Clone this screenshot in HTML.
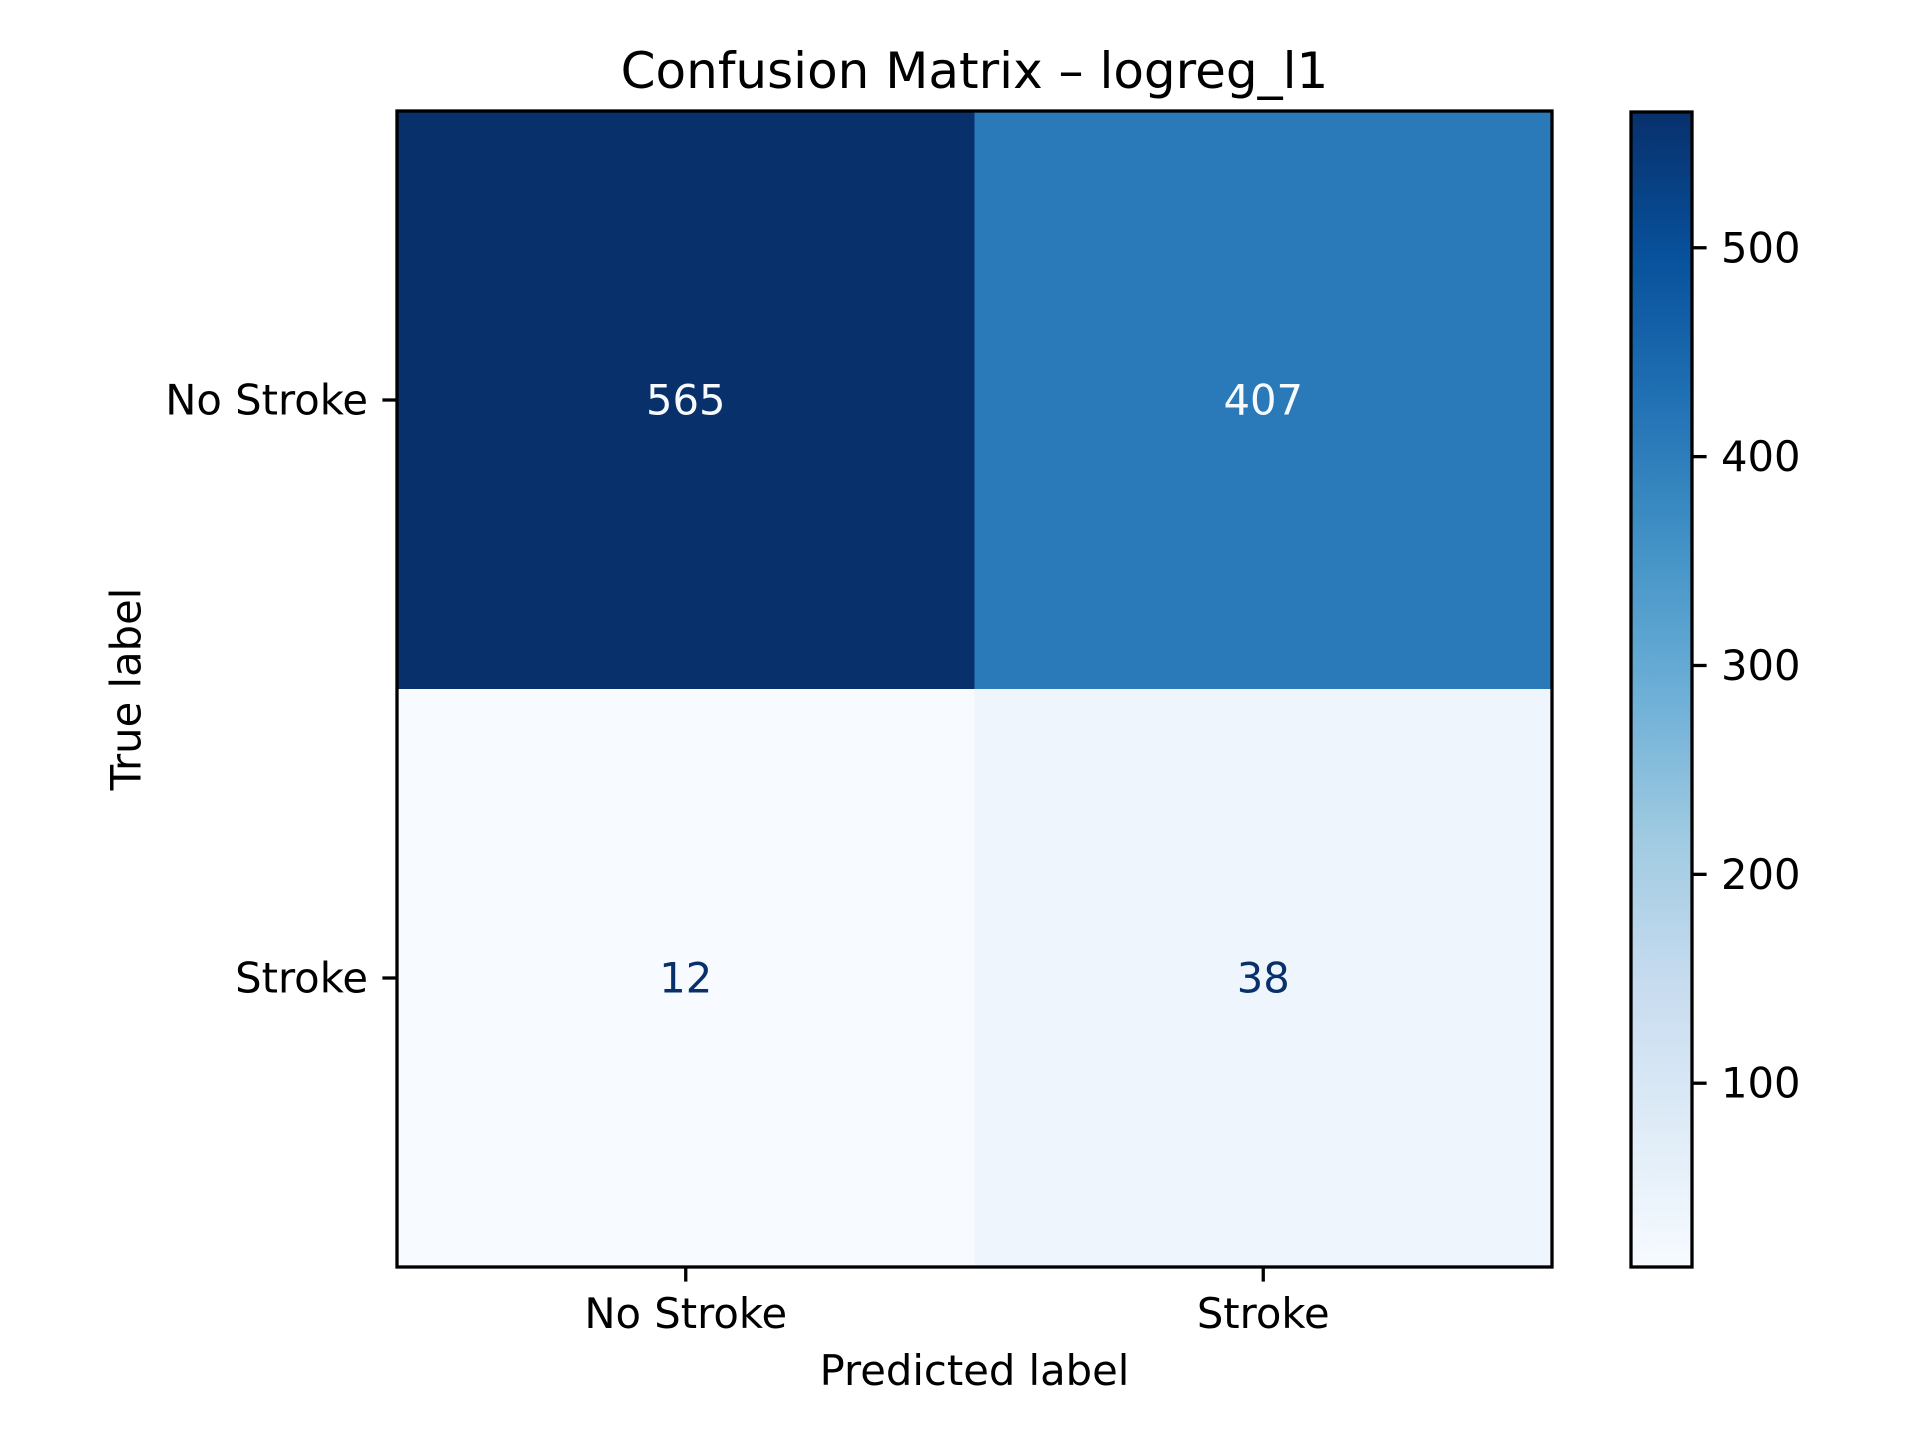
<!DOCTYPE html>
<html><head><meta charset="utf-8"><style>
html,body{margin:0;padding:0;background:#fff;}
svg{display:block;font-family:"DejaVu Sans","Liberation Sans",sans-serif;}
</style></head><body>
<svg id="chart" width="1920" height="1440" viewBox="0 0 1920 1440" xmlns="http://www.w3.org/2000/svg">
<defs>
<linearGradient id="blues" x1="0" y1="1" x2="0" y2="0">
<stop offset="0" stop-color="#f7fbff"/><stop offset="0.125" stop-color="#deebf7"/><stop offset="0.25" stop-color="#c6dbef"/><stop offset="0.375" stop-color="#9ecae1"/><stop offset="0.5" stop-color="#6baed6"/><stop offset="0.625" stop-color="#4292c6"/><stop offset="0.75" stop-color="#2171b5"/><stop offset="0.875" stop-color="#08519c"/><stop offset="1" stop-color="#08306b"/>
</linearGradient>
</defs>
<text x="974.5" y="88" font-size="50" text-anchor="middle">Confusion Matrix – logreg_l1</text>
<g id="cells"></g>
<rect x="397" y="111" width="1155" height="1156" fill="none" stroke="#000" stroke-width="3.3"/>
<g id="ticks"></g>
<text x="974.5" y="1385" font-size="41.7" text-anchor="middle">Predicted label</text>
<text transform="translate(126,689) rotate(-90)" font-size="41.7" text-anchor="middle" dominant-baseline="central">True label</text>
<rect x="1631" y="112" width="61" height="1155" fill="url(#blues)" stroke="#000" stroke-width="3.3"/>
<g id="cbticks"></g>
</svg>
<script>
const classLabels = ["No Stroke", "Stroke"];
const matrixValues = [[565, 407], [12, 38]];
const colorbarTicks = [100, 200, 300, 400, 500];

const NS = "http://www.w3.org/2000/svg";
const AX = {x0: 397, y0: 111, w: 1155, h: 1156};
const CB = {x: 1631, y0: 112, y1: 1267, w: 61};
const flat = matrixValues.flat();
const vmin = Math.min(...flat), vmax = Math.max(...flat);
const stops = [[0,[247,251,255]],[0.125,[222,235,247]],[0.25,[198,219,239]],[0.375,[158,202,225]],[0.5,[107,174,214]],[0.625,[66,146,198]],[0.75,[33,113,181]],[0.875,[8,81,156]],[1,[8,48,107]]];
function blues(t){t=Math.max(0,Math.min(1,t));for(let i=1;i<stops.length;i++){if(t<=stops[i][0]){const a=stops[i-1],b=stops[i];const f=(t-a[0])/(b[0]-a[0]);return "rgb("+a[1].map((c,k)=>Math.round(c+(b[1][k]-c)*f)).join(",")+")";}}return "rgb(8,48,107)";}
const n = classLabels.length;
const cw = AX.w / n, ch = AX.h / n;
function xPos(j){return AX.x0 + cw * (j + 0.5);}
function yPos(i){return AX.y0 + ch * (i + 0.5);}
function cbY(v){return CB.y1 - (v - vmin) / (vmax - vmin) * (CB.y1 - CB.y0);}
function mk(tag, attrs, txt){const e=document.createElementNS(NS,tag);for(const k in attrs)e.setAttribute(k,attrs[k]);if(txt!==undefined)e.textContent=txt;return e;}
const cells = document.getElementById("cells");
const thresh = (vmax + vmin) / 2;
for (let i = 0; i < n; i++) for (let j = 0; j < n; j++) {
  const v = matrixValues[i][j];
  const r = mk("rect", {x: AX.x0 + cw*j, y: AX.y0 + ch*i, width: cw + 0.5, height: ch + 0.5, fill: blues((v - vmin)/(vmax - vmin))});
  
  
  cells.appendChild(r);
  const t = mk("text", {x: xPos(j), y: yPos(i), "font-size": 41.7, "text-anchor": "middle", "dominant-baseline": "central", fill: v > thresh ? "#f7fbff" : "#08306b"}, String(v));
  
  
  cells.appendChild(t);
}
const ticks = document.getElementById("ticks");
classLabels.forEach((lab, k) => {
  const x = xPos(k), y = yPos(k);
  const tx = mk("line", {x1: x, x2: x, y1: AX.y0 + AX.h, y2: AX.y0 + AX.h + 14.6, stroke: "#000", "stroke-width": 3.3});
  
  
  ticks.appendChild(tx);
  const lx = mk("text", {x: x, y: 1328, "font-size": 41.7, "text-anchor": "middle"}, lab);
  
  
  ticks.appendChild(lx);
  const ty = mk("line", {x1: AX.x0 - 14.6, x2: AX.x0, y1: y, y2: y, stroke: "#000", "stroke-width": 3.3});
  
  
  ticks.appendChild(ty);
  const ly = mk("text", {x: 368, y: y, "font-size": 41.7, "text-anchor": "end", "dominant-baseline": "central"}, lab);
  
  
  ticks.appendChild(ly);
});
const cbt = document.getElementById("cbticks");
colorbarTicks.forEach(v => {
  const y = cbY(v);
  const l = mk("line", {x1: CB.x + CB.w, x2: CB.x + CB.w + 14.6, y1: y, y2: y, stroke: "#000", "stroke-width": 3.3});
  
  
  cbt.appendChild(l);
  const t = mk("text", {x: CB.x + CB.w + 29, y: y, "font-size": 41.7, "dominant-baseline": "central"}, String(v));
  
  
  cbt.appendChild(t);
});
</script>
</body></html>
